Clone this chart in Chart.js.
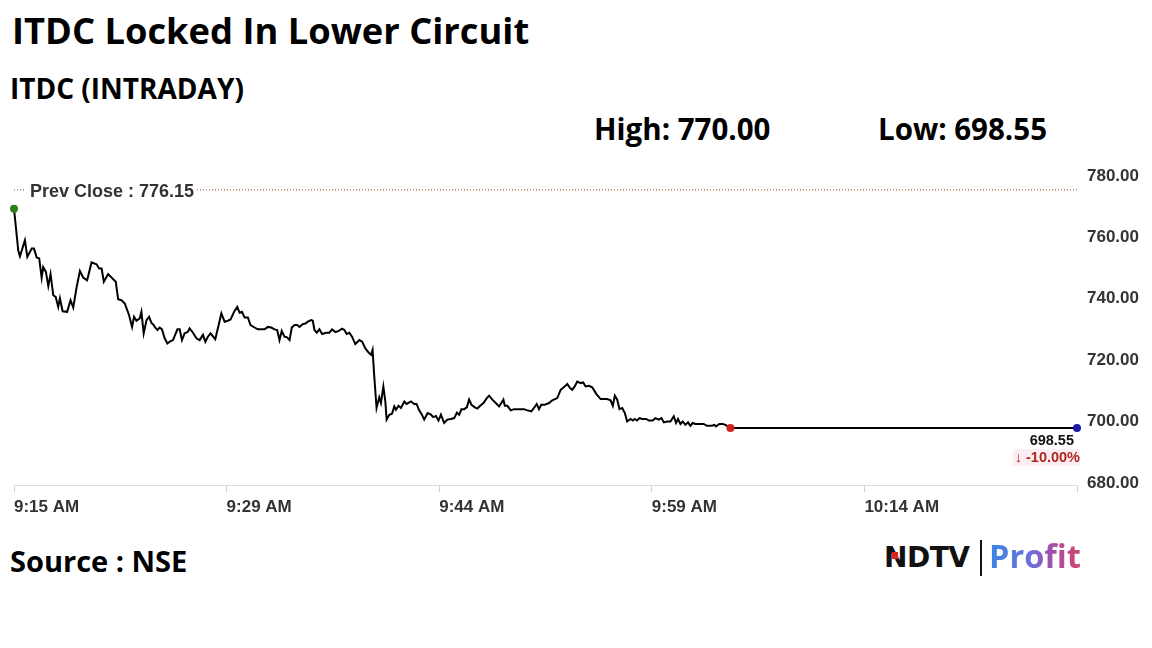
<!DOCTYPE html>
<html>
<head>
<meta charset="utf-8">
<script src="https://cdn.jsdelivr.net/npm/chart.js@4.4.1/dist/chart.umd.min.js"></script>
<style>
  html, body { margin: 0; padding: 0; background: #fff; }
  body { width: 1152px; height: 648px; position: relative; overflow: hidden; font-family: "Open Sans", sans-serif; color: #000; }
  .txt { position: absolute; font-weight: 700; line-height: 1; white-space: nowrap; }
  #title { left: 12px; top: 12px; font-size: 36.3px; }
  #sub { left: 10px; top: 74px; font-size: 28px; }
  #high { left: 594px; top: 114px; font-size: 29.5px; }
  #low { left: 878px; top: 114px; font-size: 29.5px; }
  #source { left: 10px; top: 546px; font-size: 29px; }
  #chartBox { position: absolute; left: 0; top: 150px; width: 1152px; height: 370px; }
  #logo { position: absolute; left: 884px; top: 538px; height: 40px; }
  #ndtv { position: absolute; left: 0; top: 6px; font-family: "DejaVu Sans", sans-serif; font-weight: 700; font-size: 28px; line-height: 1; letter-spacing: -0.5px; color: #111; }
  #ndtvDot { position: absolute; left: 8px; top: 14px; width: 6px; height: 7px; background: #d22; }
  #bar { position: absolute; left: 96px; top: 2px; width: 2px; height: 36px; background: #111; }
  #profit { position: absolute; left: 105px; top: 0px; font-size: 32.5px; font-weight: 700; line-height: 1.1;
    background: linear-gradient(90deg, #3b86e4 0%, #6a6fdc 45%, #b24a9a 75%, #d0456e 100%);
    -webkit-background-clip: text; background-clip: text; color: transparent; }
</style>
</head>
<body>
<div class="txt" id="title">ITDC Locked In Lower Circuit</div>
<div class="txt" id="sub">ITDC (INTRADAY)</div>
<div class="txt" id="high">High: 770.00</div>
<div class="txt" id="low">Low: 698.55</div>
<div id="chartBox"><canvas id="chart"></canvas></div>
<div class="txt" id="source">Source : NSE</div>
<div id="logo">
  <div id="ndtv">NDTV</div>
  <div id="ndtvDot"></div>
  <div id="bar"></div>
  <div id="profit">Profit</div>
</div>
<script>
  // minutes after 9:15 AM
  const minutes = [
    0.0, 0.30, 0.42, 0.77, 0.94, 1.25, 1.41, 1.60, 1.78, 1.95, 2.06, 2.25, 2.42, 2.58, 2.77, 2.94, 3.12, 3.24, 3.43, 3.75,
    3.99, 4.18, 4.42, 4.65, 4.88, 5.16, 5.47, 5.82, 6.01, 6.18, 6.34, 6.64, 7.18, 7.35, 7.58, 7.82, 8.12, 8.33, 8.47, 8.64,
    8.87, 8.99, 9.15, 9.35, 9.53, 9.70, 9.86,
    9.93, 10.12, 10.28, 10.44, 10.63, 10.82, 10.99, 11.22, 11.53, 11.69, 11.85, 12.04, 12.27, 12.39, 12.63, 12.87, 13.10,
    13.33, 13.50, 13.68, 13.87, 14.20, 14.44, 14.63, 14.86, 15.09, 15.28, 15.56, 15.75, 15.92, 16.08, 16.27, 16.50, 16.69,
    16.97, 17.21, 17.68, 17.91, 18.15, 18.38, 18.57, 18.73, 18.89, 19.08, 19.27, 19.44, 19.60, 19.79, 19.98, 20.14,
    20.37, 20.56, 20.73, 20.97, 21.08, 21.20, 21.36, 21.55, 21.74, 22.02, 22.25, 22.44, 22.68, 22.91, 23.15, 23.31, 23.47,
    23.66, 23.85, 24.08, 24.37, 24.56, 24.79, 25.02, 25.19, 25.30, 25.42, 25.58, 25.77, 25.89, 26.06, 26.20, 26.29, 26.48,
    26.67, 26.83, 26.95, 27.13, 27.30, 27.54, 27.70, 28.01, 28.24, 28.40, 28.59, 28.78, 28.94, 29.18, 29.42, 29.58, 29.77,
    29.95, 30.12, 30.35,
    30.58, 30.82, 31.06, 31.25, 31.41, 31.57, 31.76, 31.95, 32.11, 32.28, 32.51, 32.70, 32.89, 33.12, 33.36, 33.52, 33.75,
    33.99, 34.23, 34.53, 34.63, 34.81, 35.05, 35.28, 35.63, 35.99, 36.22, 36.50, 36.69, 36.88, 37.04, 37.20, 37.44, 37.75,
    37.98, 38.33, 38.57, 38.85, 39.04, 39.23, 39.39, 39.56, 39.74, 39.98, 40.16, 40.33, 40.56,
    40.80, 41.08, 41.39, 41.85, 42.09, 42.25, 42.39, 42.56, 42.72, 42.91, 43.10, 43.26, 43.50, 43.66, 43.80, 43.96, 44.13,
    44.32, 44.60, 44.79, 45.07, 45.26, 45.49, 45.68, 45.85, 46.08, 46.32, 46.55, 46.71, 46.85, 47.02, 47.18, 47.37, 47.56,
    47.72, 47.89, 48.08, 48.31, 48.66, 48.89, 49.25, 49.42, 49.53, 49.77, 50.00, 50.19, 50.55, 75.0
  ];

  const prices = [
    770.0, 756.4, 754.5, 759.7, 754.3, 757.0, 757.0, 754.1, 753.8, 747.5, 751.0, 749.4, 744.8, 748.7, 741.8, 741.3, 738.0, 740.8, 736.6, 736.4,
    740.2, 737.8, 744.5, 749.7, 747.6, 746.7, 752.5, 751.9, 750.5, 750.5, 746.2, 748.7, 746.2, 740.5, 740.2, 739.1, 735.3, 731.5, 734.8, 733.5,
    734.3, 736.4, 729.4, 733.7, 734.8, 732.8, 732.1,
    731.5, 730.5, 731.3, 730.7, 727.8, 726.1, 726.7, 727.2, 730.7, 730.7, 727.2, 729.4, 729.9, 731.0, 729.6, 727.8, 727.2,
    728.9, 726.7, 728.3, 729.4, 727.5, 732.1, 735.9, 733.2, 733.5, 733.9, 736.7, 738.0, 736.1, 736.4, 734.6, 734.6, 732.1,
    731.3, 730.7, 730.7, 731.5, 731.3, 730.7, 730.5, 727.2, 730.2, 728.3, 728.1, 727.2, 731.3, 732.1, 732.1, 731.5,
    732.4, 732.6, 733.2, 733.7, 733.5, 730.5, 729.6, 730.7, 729.2, 729.6, 729.6, 730.7, 729.8, 730.2, 730.9, 730.5, 729.2,
    729.6, 728.3, 725.9, 727.2, 726.7, 724.5, 723.1, 722.4, 724.0, 715.3, 705.1, 708.6, 706.7, 712.1, 707.2, 701.3, 702.9,
    703.2, 705.6, 704.5, 705.8, 705.1, 707.2, 706.4, 707.2, 706.4, 706.4, 704.3, 702.9, 701.3, 703.4, 702.9, 702.1, 702.5,
    701.0, 702.9, 700.2,
    701.3, 701.5, 701.8, 703.6, 702.9, 704.7, 704.7, 705.3, 707.8, 706.1, 705.3, 704.9, 705.8, 706.7, 708.3, 709.1, 707.8,
    706.7, 705.6, 707.8, 705.8, 705.8, 704.3, 704.7, 704.7, 704.7, 704.3, 704.0, 705.1, 706.4, 704.7, 706.1, 706.1, 706.7,
    707.6, 708.3, 711.0, 712.1, 712.9, 711.6, 711.0, 712.1, 713.7, 713.2, 713.4, 712.1, 712.3,
    711.8, 709.7, 708.0, 708.0, 707.6, 705.8, 709.1, 707.8, 704.7, 705.1, 703.4, 700.7, 701.5, 701.0, 701.5, 701.0, 701.8,
    701.5, 701.5, 701.0, 701.0, 701.8, 701.3, 701.8, 700.4, 700.7, 700.7, 702.4, 700.2, 701.5, 699.9, 700.7, 699.6, 700.4,
    699.3, 700.2, 699.9, 699.9, 699.9, 699.3, 699.3, 699.6, 699.1, 699.9, 699.9, 699.6, 698.55, 698.55
  ];

  const tickMinutes = [0, 15, 30, 45, 60, 75];
  const tickLabels = ['9:15 AM', '9:29 AM', '9:44 AM', '9:59 AM', '10:14 AM', ''];
  const prevClose = 776.15;
  const lastPrice = 698.55;
  const changeText = '\u2193 -10.00%';

  if (minutes.length !== prices.length) console.warn('length mismatch', minutes.length, prices.length);

  const points = minutes.map((m, i) => ({ x: m, y: prices[i] }));
  const circuitIdx = points.length - 2;
  const lastIdx = points.length - 1;

  // prev close label + last price labels
  const overlay = {
    id: 'overlay',
    afterDatasetsDraw(chart) {
      const { ctx, chartArea, scales } = chart;
      const y = scales.y.getPixelForValue(prevClose);
      ctx.save();
      ctx.font = 'bold 18px "Liberation Sans", Arial, sans-serif';
      const label = 'Prev Close : ' + prevClose.toFixed(2);
      const w = ctx.measureText(label).width;
      ctx.fillStyle = '#fff';
      ctx.fillRect(chartArea.left + 11, y - 10, w + 8, 20);
      ctx.fillStyle = '#333';
      ctx.textBaseline = 'middle';
      ctx.textAlign = 'left';
      ctx.fillText(label, chartArea.left + 16, y + 2);

      const yl = scales.y.getPixelForValue(lastPrice);
      ctx.textAlign = 'right';
      ctx.font = 'bold 14.5px "Liberation Sans", Arial, sans-serif';
      ctx.fillStyle = '#111';
      ctx.fillText(lastPrice.toFixed(2), chartArea.right - 3, yl + 13);
      ctx.font = 'bold 14.5px "Liberation Sans", Arial, sans-serif';
      const cw = ctx.measureText(changeText).width;
      ctx.fillStyle = '#fdeef3';
      ctx.fillRect(chartArea.right + 3 - cw - 2, yl + 21, cw + 2, 17);
      ctx.fillStyle = '#b3261e';
      ctx.fillText(changeText, chartArea.right + 3, yl + 30);
      ctx.restore();
    }
  };

  new Chart(document.getElementById('chart'), {
    type: 'line',
    data: {
      datasets: [
        {
          data: points,
          borderColor: '#000',
          borderWidth: 2,
          tension: 0,
          clip: false,
          pointRadius: (c) => (c.dataIndex === 0 || c.dataIndex === circuitIdx || c.dataIndex === lastIdx) ? 4 : 0,
          pointBorderWidth: 0,
          pointBackgroundColor: (c) => c.dataIndex === 0 ? '#2e7d16' : (c.dataIndex === circuitIdx ? '#d61f1f' : '#1c1ca6'),
          order: 1
        },
        {
          data: [{ x: 0, y: prevClose }, { x: 75, y: prevClose }],
          borderColor: '#a0522d',
          borderWidth: 1,
          borderDash: [1, 2],
          pointRadius: 0,
          order: 2
        }
      ]
    },
    options: {
      responsive: true,
      maintainAspectRatio: false,
      animation: false,
      layout: { padding: { left: 14, top: 28, right: 0, bottom: 0 } },
      plugins: { legend: { display: false }, tooltip: { enabled: false } },
      scales: {
        x: {
          type: 'linear',
          min: 0,
          max: 75,
          afterBuildTicks: (axis) => { axis.ticks = tickMinutes.map(v => ({ value: v })); },
          afterFit: (axis) => { axis.height = 35; },
          grid: { drawOnChartArea: false, drawTicks: true, tickLength: 7, color: '#d0d0d0' },
          border: { display: true, color: '#dcdcdc' },
          ticks: {
            align: 'start',
            padding: 5,
            maxRotation: 0,
            autoSkip: false,
            color: '#333',
            font: { family: '"Liberation Sans", Arial, sans-serif', weight: 'bold', size: 17 },
            callback: (v) => tickLabels[tickMinutes.indexOf(v)] ?? ''
          }
        },
        y: {
          position: 'right',
          min: 680,
          max: 780,
          afterFit: (axis) => { axis.width = 75; },
          grid: { display: false },
          border: { display: false },
          ticks: {
            stepSize: 20,
            padding: 2,
            labelOffset: -2,
            color: '#333',
            font: { family: '"Liberation Sans", Arial, sans-serif', weight: 'bold', size: 17 },
            callback: (v) => Number(v).toFixed(2)
          }
        }
      }
    },
    plugins: [overlay]
  });
</script>
</body>
</html>
